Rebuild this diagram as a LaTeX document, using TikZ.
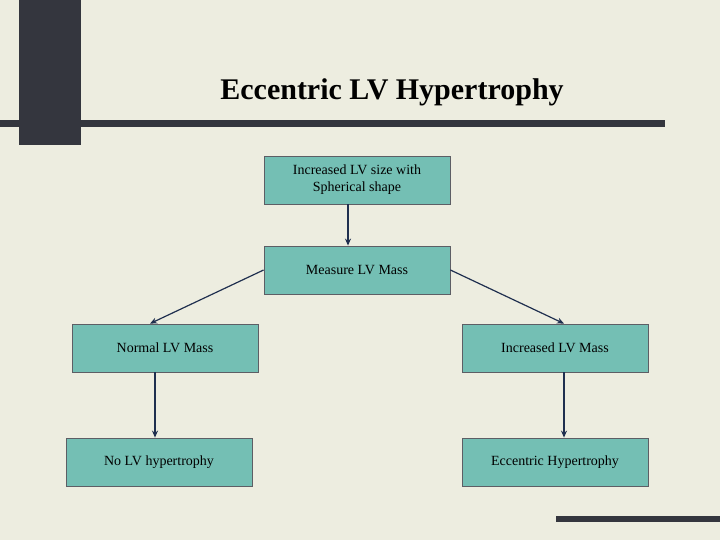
\documentclass[tikz,border=0pt]{standalone}
\usepackage{fontspec}
\setmainfont{Liberation Serif}
\usetikzlibrary{arrows.meta}
\definecolor{bg}{HTML}{EDEDE0}
\definecolor{dark}{HTML}{34363E}
\definecolor{teal}{HTML}{74BFB4}
\definecolor{navy}{HTML}{1F2F4F}
\tikzset{
  box/.style={draw=dark!80,line width=0.8pt,fill=teal,minimum width=186pt,minimum height=48pt,inner sep=2pt,align=center,font=\fontsize{14}{17}\selectfont},
  arr/.style={draw=navy,line width=1.2pt,-{Stealth[length=7pt,width=6pt]}}
}
\begin{document}
\begin{tikzpicture}[x=1pt,y=-1pt]
\fill[bg] (0,0) rectangle (720,540);
\useasboundingbox (0,0) rectangle (720,540);
\fill[dark] (19,0) rectangle (81,145);
\fill[dark] (0,120) rectangle (665,127);
\fill[dark] (556,516) rectangle (720,522);
\node[font=\bfseries\fontsize{30}{34}\selectfont,text=black] (title) at (392,92) {Eccentric LV Hypertrophy};
\node[box] (a) at (357,180) {Increased LV size with\\Spherical shape};
\node[box] (b) at (357,270) {Measure LV Mass};
\node[box] (c) at (165,348) {Normal LV Mass};
\node[box] (d) at (555,348) {Increased LV Mass};
\node[box] (e) at (159,462) {No LV hypertrophy};
\node[box] (f) at (555,462) {Eccentric Hypertrophy};
\draw[arr] (a.south -| 348,0) -- (b.north -| 348,0);
\draw[arr] (b.west) -- (c.north -| 150,0);
\draw[arr] (b.east) -- (d.north -| 564,0);
\draw[arr] (c.south -| 155,0) -- (e.north -| 155,0);
\draw[arr] (d.south -| 564,0) -- (f.north -| 564,0);
\end{tikzpicture}
\end{document}
